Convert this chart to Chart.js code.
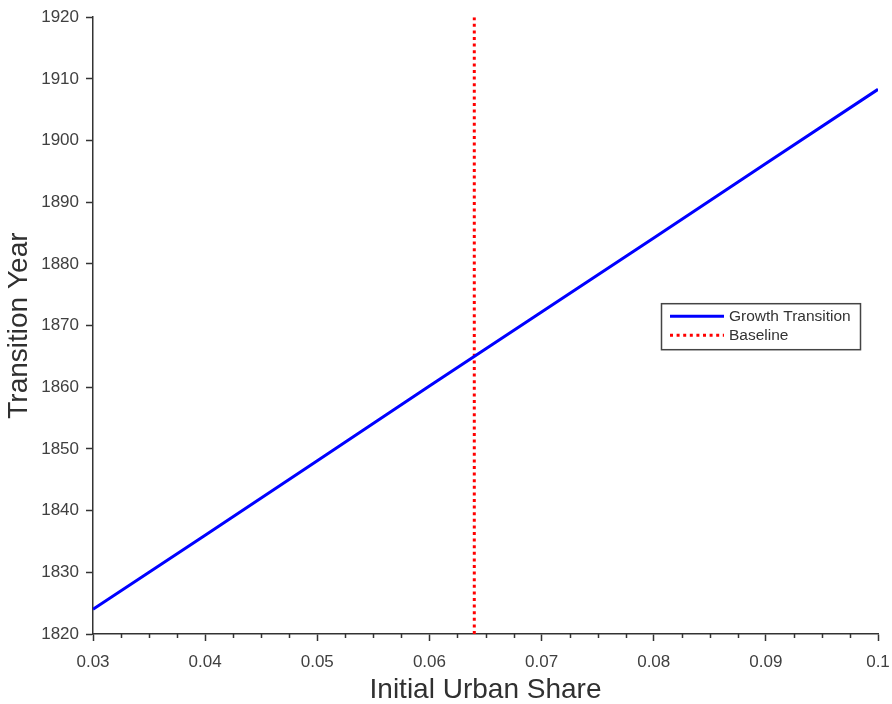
<!DOCTYPE html>
<html>
<head>
<meta charset="utf-8">
<script src="https://cdn.jsdelivr.net/npm/chart.js@4.4.1/dist/chart.umd.min.js"></script>
<style>
  html, body { margin: 0; padding: 0; background: #ffffff; }
  #wrap { width: 892px; height: 704px; }
</style>
</head>
<body>
<div id="wrap"><canvas id="c" width="892" height="704"></canvas></div>
<script>
// ---- data ----
const urbanShare = [0.03, 0.04, 0.05, 0.06, 0.07, 0.08, 0.09, 0.10];
const transitionYear = [1824.0, 1836.0, 1848.1, 1860.2, 1872.2, 1884.2, 1896.3, 1908.3];
const baselineShare = 0.064;
const yRange = [1820, 1920];
const xRange = [0.03, 0.10];
const xTickLabels = ['0.03', '0.04', '0.05', '0.06', '0.07', '0.08', '0.09', '0.1'];
const yTickValues = [1820, 1830, 1840, 1850, 1860, 1870, 1880, 1890, 1900, 1910, 1920];
const seriesNames = ['Growth Transition', 'Baseline'];

const FONT = '"Liberation Sans", Arial, Helvetica, sans-serif';
const AXIS = '#333333';

const growthData = urbanShare.map((x, i) => ({ x: x, y: transitionYear[i] }));
const baselineData = [{ x: baselineShare, y: yRange[0] }, { x: baselineShare, y: yRange[1] }];

// minor ticks on x axis (quarters between majors)
const minorTicks = {
  id: 'minorTicks',
  afterDatasetsDraw(chart) {
    const xs = chart.scales.x;
    const ctx = chart.ctx;
    const step = 0.0025;
    ctx.save();
    ctx.strokeStyle = AXIS;
    ctx.lineWidth = 1.5;
    for (let k = 0; k <= 28; k++) {
      if (k % 4 === 0) continue;
      const v = xRange[0] + k * step;
      const px = Math.round(xs.getPixelForValue(v)) + 0.5;
      ctx.beginPath();
      ctx.moveTo(px, xs.top);
      ctx.lineTo(px, xs.top + 4);
      ctx.stroke();
    }
    ctx.restore();
  }
};

// legend box drawn inside the plot area
const boxLegend = {
  id: 'boxLegend',
  afterDraw(chart) {
    const ctx = chart.ctx;
    const a = chart.chartArea;
    const x0 = a.right - 217, y0 = a.top + 286, w = 199, h = 46;
    ctx.save();
    ctx.fillStyle = '#ffffff';
    ctx.fillRect(x0, y0, w, h);
    ctx.strokeStyle = '#444444';
    ctx.lineWidth = 1.5;
    ctx.strokeRect(x0 + 0.5, y0 + 0.5, w, h);
    ctx.font = '15.5px ' + FONT;
    ctx.textBaseline = 'middle';
    ctx.fillStyle = '#333333';
    chart.data.datasets.forEach((ds, i) => {
      const yy = y0 + 13 + i * 19;
      ctx.beginPath();
      ctx.strokeStyle = ds.borderColor;
      ctx.lineWidth = 3;
      ctx.setLineDash(ds.borderDash || []);
      ctx.moveTo(x0 + 9, yy);
      ctx.lineTo(x0 + 63, yy);
      ctx.stroke();
      ctx.setLineDash([]);
      ctx.fillText(ds.label, x0 + 68, yy + 1);
    });
    ctx.restore();
  }
};

new Chart(document.getElementById('c'), {
  type: 'scatter',
  data: {
    datasets: [
      {
        label: seriesNames[0],
        data: growthData,
        showLine: true,
        borderColor: '#0000ff',
        backgroundColor: '#0000ff',
        borderWidth: 3,
        pointRadius: 0,
        tension: 0
      },
      {
        label: seriesNames[1],
        data: baselineData,
        showLine: true,
        borderColor: '#ff0000',
        backgroundColor: '#ff0000',
        borderWidth: 3,
        borderDash: [3, 3.6],
        pointRadius: 0
      }
    ]
  },
  options: {
    responsive: false,
    animation: false,
    layout: { padding: { top: 17, right: 14, left: 0, bottom: 0 } },
    plugins: {
      legend: { display: false },
      tooltip: { enabled: false }
    },
    scales: {
      x: {
        type: 'linear',
        min: xRange[0],
        max: xRange[1],
        afterBuildTicks(scale) {
          scale.ticks = xTickLabels.map(t => ({ value: parseFloat(t) }));
        },
        afterFit(scale) { scale.height = 70; scale.paddingRight = 0; scale.paddingLeft = 0; },
        ticks: {
          callback: (v, i) => xTickLabels[i],
          font: { family: FONT, size: 17 },
          color: '#404040',
          padding: 11,
          maxRotation: 0,
          autoSkip: false
        },
        grid: {
          drawOnChartArea: false,
          drawTicks: true,
          tickLength: 7,
          tickWidth: 1.5,
          tickColor: AXIS
        },
        border: { display: true, color: AXIS, width: 1.5 },
        title: {
          display: true,
          text: 'Initial Urban Share',
          font: { family: FONT, size: 28 },
          color: '#303030',
          padding: { top: 0, bottom: -3 }
        }
      },
      y: {
        type: 'linear',
        min: yRange[0],
        max: yRange[1],
        afterBuildTicks(scale) {
          scale.ticks = yTickValues.map(v => ({ value: v }));
        },
        afterFit(scale) { scale.width = 93; },
        ticks: {
          callback: v => String(v),
          font: { family: FONT, size: 17 },
          color: '#404040',
          padding: 7
        },
        grid: {
          drawOnChartArea: false,
          drawTicks: true,
          tickLength: 7,
          tickWidth: 1.5,
          tickColor: AXIS
        },
        border: { display: true, color: AXIS, width: 1.5 },
        title: {
          display: true,
          text: 'Transition Year',
          font: { family: FONT, size: 28 },
          color: '#303030',
          padding: { top: 2, bottom: 0 }
        }
      }
    }
  },
  plugins: [minorTicks, boxLegend]
});
</script>
</body>
</html>
